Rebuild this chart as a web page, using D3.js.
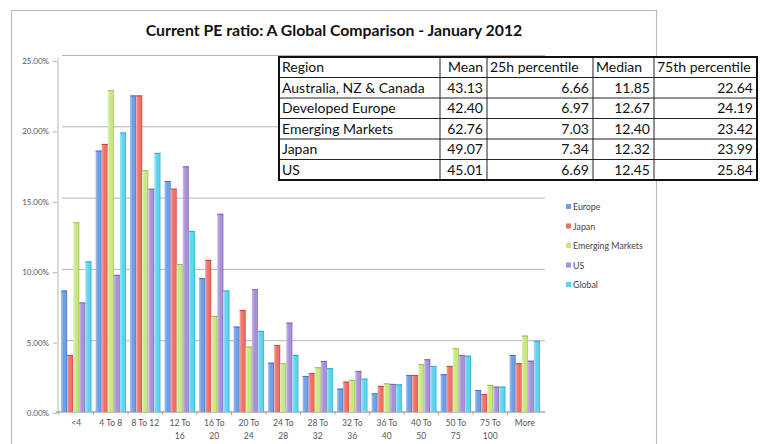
<!DOCTYPE html>
<html>
<head>
<meta charset="utf-8">
<script src="https://cdn.jsdelivr.net/npm/d3@7"></script>
<style>
  body { margin: 0; background: #fff; }
  svg { display: block; }
</style>
</head>
<body>
<svg width="760" height="444"></svg>
<script>
// datos
const categorias = ["<4", "4 To 8", "8 To 12", "12 To 16", "16 To 20", "20 To 24", "24 To 28",
  "28 To 32", "32 To 36", "36 To 40", "40 To 50", "50 To 75", "75 To 100", "More"];
const series = ["Europe", "Japan", "Emerging Markets", "US", "Global"];
const europa = [8.52, 18.33, 22.2, 16.2, 9.39, 5.99, 3.46, 2.53, 1.64, 1.31, 2.6, 2.65, 1.54, 4.0];
const japon = [4.0, 18.8, 22.2, 15.66, 10.67, 7.16, 4.7, 2.72, 2.13, 1.83, 2.6, 3.23, 1.26, 3.42];
const emergentes = [13.3, 22.56, 16.95, 10.37, 6.74, 4.59, 3.42, 3.14, 2.25, 2.01, 3.37, 4.47, 1.9, 5.36];
const eeuu = [7.68, 9.62, 15.66, 17.23, 13.9, 8.61, 6.27, 3.58, 2.88, 1.97, 3.7, 4.0, 1.78, 3.6];
const global = [10.56, 19.6, 18.17, 12.69, 8.52, 5.69, 4.0, 3.07, 2.34, 1.94, 3.23, 3.95, 1.78, 4.99];
const ticksY = [0, 5, 10, 15, 20, 25];

const titulo = "Current PE ratio: A Global Comparison - January 2012";
const cabecera = ["Region", "Mean", "25h percentile", "Median", "75th percentile"];
const regiones = ["Australia, NZ & Canada", "Developed Europe", "Emerging Markets", "Japan", "US"];
const medias = ["43.13", "42.40", "62.76", "49.07", "45.01"];
const p25 = ["6.66", "6.97", "7.03", "7.34", "6.69"];
const medianas = ["11.85", "12.67", "12.40", "12.32", "12.45"];
const p75 = ["22.64", "24.19", "23.42", "23.99", "25.84"];

const valores = [europa, japon, emergentes, eeuu, global];
const colores = [
  ["#9cc0f4", "#6f9de6", "#4576c4"],
  ["#f8a49c", "#ef7067", "#c9463e"],
  ["#e2f4b0", "#c8e683", "#98bd4c"],
  ["#c9b8ec", "#a791d8", "#7d64b5"],
  ["#9ae8f6", "#5dd3ec", "#2fa9c8"]
];

const svg = d3.select("svg");
const fuente = "Lato, 'Open Sans', sans-serif";

// marco exterior
svg.append("rect")
    .attr("x", 11.5).attr("y", 10.5)
    .attr("width", 645).attr("height", 460)
    .attr("fill", "none").attr("stroke", "#bdbdbd").attr("stroke-width", 1.2);

svg.append("text")
    .attr("x", 334).attr("y", 36)
    .attr("text-anchor", "middle")
    .attr("font-family", fuente).attr("font-weight", "bold").attr("font-size", 15.8)
    .attr("fill", "#111")
    .text(titulo);

// escalas
const x = d3.scaleBand().domain(categorias).range([59, 542]).paddingInner(0.12).paddingOuter(0.06);
const xSerie = d3.scaleBand().domain(series).range([0, x.bandwidth()]);
const y = d3.scaleLinear().domain([0, 25]).range([412, 55.5]);
const yEtiq = d3.scaleLinear().domain([0, 25]).range([413, 61]);

// degradados de las barras
const defs = svg.append("defs");
series.forEach((s, i) => {
  const g = defs.append("linearGradient").attr("id", "grad" + i)
      .attr("x1", "0").attr("x2", "1").attr("y1", "0").attr("y2", "0");
  g.append("stop").attr("offset", "0%").attr("stop-color", colores[i][0]);
  g.append("stop").attr("offset", "45%").attr("stop-color", colores[i][1]);
  g.append("stop").attr("offset", "78%").attr("stop-color", colores[i][1]);
  g.append("stop").attr("offset", "100%").attr("stop-color", colores[i][2]);
});

// lineas de cuadricula
svg.append("g").selectAll("line")
    .data(ticksY.slice(1))
    .join("line")
    .attr("x1", 62).attr("x2", 545)
    .attr("y1", d => y(d)).attr("y2", d => y(d))
    .attr("stroke", "#b4b4b4").attr("stroke-width", 1);

// pared izquierda y suelo
svg.append("line")
    .attr("x1", 58).attr("x2", 58).attr("y1", y(25) + 2).attr("y2", y(0) + 1)
    .attr("stroke", "#b4b4b4");
svg.append("line")
    .attr("x1", 56).attr("x2", 545).attr("y1", y(0)).attr("y2", y(0))
    .attr("stroke", "#a8a8a8").attr("stroke-width", 1.5);
svg.append("g").selectAll("line")
    .data(categorias)
    .join("line")
    .attr("x1", d => x(d) - x.step() * 0.06).attr("x2", d => x(d) - x.step() * 0.06)
    .attr("y1", y(0) - 1).attr("y2", y(0) + 3)
    .attr("stroke", "#a8a8a8");

// eje y
const ejeY = svg.append("g")
    .attr("transform", "translate(57,0)")
    .call(d3.axisLeft(yEtiq).tickValues(ticksY).tickSize(4).tickFormat(d => d.toFixed(2) + "%"));
ejeY.select(".domain").remove();
ejeY.selectAll(".tick line").attr("stroke", "#b4b4b4");
ejeY.selectAll("text")
    .attr("font-family", fuente).attr("font-size", 8).attr("fill", "#555").attr("x", -8);

// barras
const grupos = svg.append("g").selectAll("g")
    .data(categorias)
    .join("g")
    .attr("transform", d => "translate(" + x(d) + ",0)");

grupos.selectAll("rect")
    .data((c, ci) => series.map((s, si) => ({ serie: s, si: si, v: valores[si][ci] })))
    .join("rect")
    .attr("x", d => xSerie(d.serie))
    .attr("y", d => y(d.v))
    .attr("width", xSerie.bandwidth())
    .attr("height", d => y(0) - y(d.v))
    .attr("fill", d => "url(#grad" + d.si + ")");

grupos.selectAll("line.tope")
    .data((c, ci) => series.map((s, si) => ({ serie: s, si: si, v: valores[si][ci] })))
    .join("line")
    .attr("class", "tope")
    .attr("x1", d => xSerie(d.serie)).attr("x2", d => xSerie(d.serie) + xSerie.bandwidth())
    .attr("y1", d => y(d.v) + 0.5).attr("y2", d => y(d.v) + 0.5)
    .attr("stroke", d => colores[d.si][2]).attr("stroke-width", 1);

// etiquetas del eje x
const etiquetas = svg.append("g").selectAll("text")
    .data(categorias)
    .join("text")
    .attr("x", d => x(d) + x.bandwidth() / 2)
    .attr("y", 426)
    .attr("text-anchor", "middle")
    .attr("font-family", fuente).attr("font-size", 8.5).attr("fill", "#555");

etiquetas.each(function (d) {
  const t = d3.select(this);
  const lineas = d.length > 7 ? [d.slice(0, d.lastIndexOf(" ")), d.slice(d.lastIndexOf(" ") + 1)] : [d];
  lineas.forEach((l, i) => {
    t.append("tspan")
        .attr("x", x(d) + x.bandwidth() / 2)
        .attr("dy", i === 0 ? 0 : 12.5)
        .text(l);
  });
});

// leyenda
const leyenda = svg.append("g").selectAll("g")
    .data(series)
    .join("g")
    .attr("transform", (d, i) => "translate(566," + (207 + i * 19.5) + ")");
leyenda.append("rect")
    .attr("x", 0).attr("y", -3).attr("width", 5).attr("height", 5)
    .attr("fill", (d, i) => colores[i][1]);
leyenda.append("text")
    .attr("x", 7).attr("y", 3)
    .attr("font-family", fuente).attr("font-size", 8.8).attr("fill", "#444")
    .text(d => d);

// tabla
const colX = [279, 440, 487, 593, 654, 757];
const filaY = d3.scaleLinear().domain([0, 6]).range([57, 180]);
const columnas = [regiones, medias, p25, medianas, p75];

const tabla = svg.append("g");
tabla.append("rect")
    .attr("x", colX[0]).attr("y", filaY(0))
    .attr("width", colX[5] - colX[0]).attr("height", filaY(6) - filaY(0))
    .attr("fill", "#fff");
tabla.selectAll("line.fila")
    .data(d3.range(1, 6))
    .join("line")
    .attr("class", "fila")
    .attr("x1", colX[0]).attr("x2", colX[5])
    .attr("y1", d => filaY(d)).attr("y2", d => filaY(d))
    .attr("stroke", "#222").attr("stroke-width", 1);
tabla.selectAll("line.col")
    .data(colX.slice(1, 5))
    .join("line")
    .attr("class", "col")
    .attr("x1", d => d).attr("x2", d => d)
    .attr("y1", filaY(0)).attr("y2", filaY(6))
    .attr("stroke", "#222").attr("stroke-width", 1);
tabla.append("rect")
    .attr("x", colX[0]).attr("y", filaY(0))
    .attr("width", colX[5] - colX[0]).attr("height", filaY(6) - filaY(0))
    .attr("fill", "none").attr("stroke", "#111").attr("stroke-width", 2);

cabecera.forEach((h, ci) => {
  const derecha = ci === 1;
  tabla.append("text")
      .attr("x", derecha ? colX[ci + 1] - 4 : colX[ci] + 3)
      .attr("y", filaY(0.5) + 5)
      .attr("text-anchor", derecha ? "end" : "start")
      .attr("font-family", fuente).attr("font-size", 14).attr("fill", "#111")
      .text(h);
});

columnas.forEach((col, ci) => {
  col.forEach((v, ri) => {
    const derecha = ci > 0;
    tabla.append("text")
        .attr("x", derecha ? colX[ci + 1] - 4 : colX[ci] + 3)
        .attr("y", filaY(ri + 1.5) + 5)
        .attr("text-anchor", derecha ? "end" : "start")
        .attr("font-family", fuente).attr("font-size", 14).attr("fill", "#111")
        .text(v);
  });
});
</script>
</body>
</html>
